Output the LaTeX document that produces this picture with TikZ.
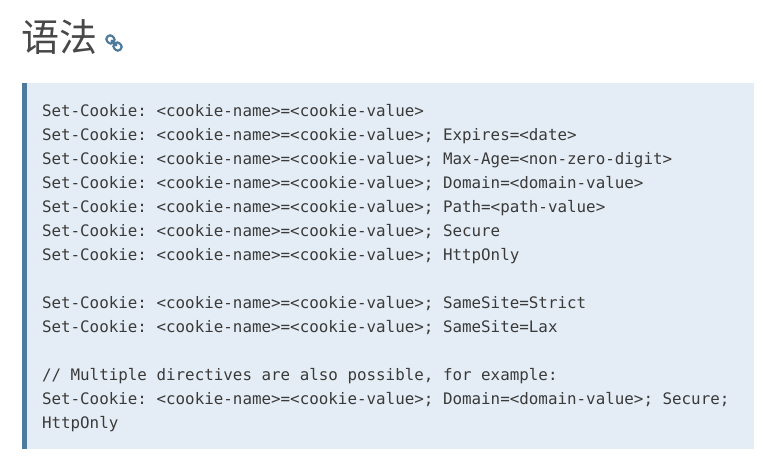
\documentclass[tikz,border=0pt]{standalone}
\usepackage{fontspec}
\setmonofont{DejaVu Sans Mono}
\newfontfamily\cjk{Noto Sans CJK SC}
\definecolor{boxbg}{HTML}{E4EDF5}
\definecolor{boxbar}{HTML}{4E7A9C}
\definecolor{headc}{HTML}{484848}
\definecolor{codec}{HTML}{3A3A3A}
\definecolor{linkc}{HTML}{4E7A9C}
\tikzset{
  codeline/.style={anchor=base west,inner sep=0pt,outer sep=0pt,font=\fontsize{15.86pt}{18pt}\ttfamily,text=codec},
}
\begin{document}
\begin{tikzpicture}[x=1pt,y=-1pt,line cap=butt]
\useasboundingbox (0,0) rectangle (763,462);
\fill[boxbg] (22,83) rectangle (754,449);
\fill[boxbar] (22,83) rectangle (27,449);
\node[anchor=base west,inner sep=0pt,font=\fontsize{38pt}{38pt}\cjk,text=headc] (title) at (21.5,52) {语法};
\begin{scope}[shift={(114,43)},rotate=-45,linkc,line width=2.2pt]
\draw[rounded corners=3pt] (-1,-3.6) rectangle (-9,3.6);
\draw[rounded corners=3pt] (1,-3.6) rectangle (9,3.6);
\draw (-4,0) -- (4,0);
\end{scope}
\node[codeline] (l1) at (42,116.5) {Set-Cookie: <cookie-name>=<cookie-value>};
\node[codeline] (l2) at (42,140.5) {Set-Cookie: <cookie-name>=<cookie-value>; Expires=<date>};
\node[codeline] (l3) at (42,164.5) {Set-Cookie: <cookie-name>=<cookie-value>; Max-Age=<non-zero-digit>};
\node[codeline] (l4) at (42,188.5) {Set-Cookie: <cookie-name>=<cookie-value>; Domain=<domain-value>};
\node[codeline] (l5) at (42,212.5) {Set-Cookie: <cookie-name>=<cookie-value>; Path=<path-value>};
\node[codeline] (l6) at (42,236.5) {Set-Cookie: <cookie-name>=<cookie-value>; Secure};
\node[codeline] (l7) at (42,260.5) {Set-Cookie: <cookie-name>=<cookie-value>; HttpOnly};
\node[codeline] (l8) at (42,308.5) {Set-Cookie: <cookie-name>=<cookie-value>; SameSite=Strict};
\node[codeline] (l9) at (42,332.5) {Set-Cookie: <cookie-name>=<cookie-value>; SameSite=Lax};
\node[codeline] (l10) at (42,380.5) {// Multiple directives are also possible, for example:};
\node[codeline] (l11) at (42,404.5) {Set-Cookie: <cookie-name>=<cookie-value>; Domain=<domain-value>; Secure;};
\node[codeline] (l12) at (42,428.5) {HttpOnly};
\end{tikzpicture}
\end{document}
